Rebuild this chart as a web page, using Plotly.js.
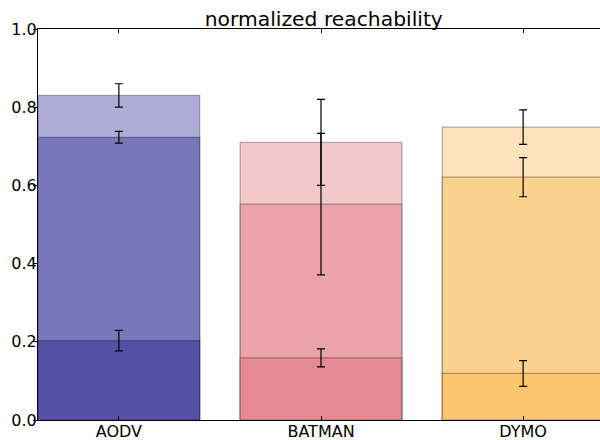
<!DOCTYPE html>
<html>
<head>
<meta charset="utf-8">
<script src="https://cdn.plot.ly/plotly-3.0.1.min.js"></script>
<style>
html, body { margin: 0; padding: 0; overflow: hidden; background: #fff; }
#chart { width: 604px; height: 440px; }
</style>
</head>
<body>
<div id="chart"></div>
<script>
const categories = ["AODV", "BATMAN", "DYMO"];
const topVals = [0.830, 0.710, 0.749];
const topErr  = [0.030, 0.110, 0.044];
const midVals = [0.723, 0.552, 0.621];
const midErr  = [0.015, 0.181, 0.050];
const lowVals = [0.203, 0.159, 0.119];
const lowErr  = [0.026, 0.023, 0.033];
const topColors = ["#AFADD7", "#F2C8CA", "#FCE3BC"];
const midColors = ["#7977BA", "#EAA4A9", "#FBD18E"];
const lowColors = ["#5550A8", "#E58A91", "#FCC56F"];
const yTicks = [0, 0.2, 0.4, 0.6, 0.8, 1.0];
const yTickText = ["0.0", "0.2", "0.4", "0.6", "0.8", "1.0"];

const x = [0, 1, 2];
function layer(vals, errs, colors) {
  return {
    type: "bar",
    x: x,
    y: vals,
    width: 0.8,
    marker: { color: colors, line: { color: "rgba(0,0,0,0.3)", width: 1.2 } },
    error_y: { type: "data", array: errs, visible: true, color: "#000", thickness: 1.2, width: 4 },
    hoverinfo: "none",
    showlegend: false
  };
}

const data = [
  layer(topVals, topErr, topColors),
  layer(midVals, midErr, midColors),
  layer(lowVals, lowErr, lowColors)
];

const axisFont = { family: "DejaVu Sans", size: 16, color: "#000" };

const layout = {
  width: 604,
  height: 440,
  margin: { l: 38, r: 0, t: 29, b: 20, pad: 0 },
  barmode: "overlay",
  paper_bgcolor: "#fff",
  plot_bgcolor: "#fff",
  title: {
    text: "normalized reachability",
    font: { family: "DejaVu Sans", size: 20.3, color: "#000" },
    x: 0.505, xref: "paper", xanchor: "center",
    y: 1, yref: "paper", yanchor: "bottom", pad: { b: 3 }
  },
  xaxis: {
    range: [-0.4, 2.4],
    tickvals: x,
    ticktext: categories,
    ticks: "inside",
    ticklen: 4,
    tickcolor: "#000",
    tickwidth: 1,
    showline: true,
    linecolor: "#000",
    linewidth: 1,
    mirror: "ticks",
    showgrid: false,
    zeroline: false,
    tickfont: axisFont,
    ticklabelstandoff: -3
  },
  yaxis: {
    range: [0, 1.0],
    tickvals: yTicks,
    ticktext: yTickText,
    ticks: "outside",
    ticklen: 4,
    tickcolor: "#000",
    tickwidth: 1,
    showline: true,
    linecolor: "#000",
    linewidth: 1,
    mirror: "ticks",
    showgrid: false,
    zeroline: false,
    tickfont: axisFont,
    ticklabelstandoff: -7
  }
};

Plotly.newPlot("chart", data, layout, { displayModeBar: false, staticPlot: true });
</script>
</body>
</html>
